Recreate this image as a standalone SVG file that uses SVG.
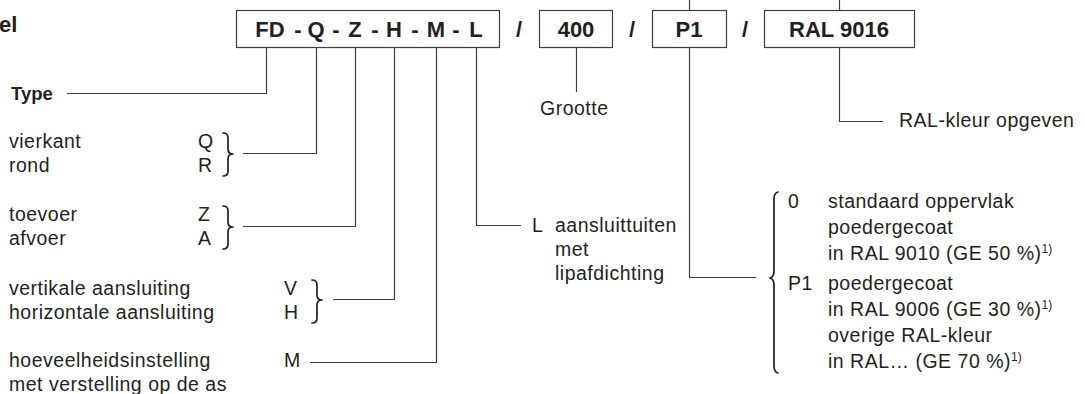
<svg xmlns="http://www.w3.org/2000/svg" width="1085" height="394" viewBox="0 0 1085 394">
<style>
text{font-family:"Liberation Sans",Arial,sans-serif;fill:#231f20}
.r{font-size:19.5px;letter-spacing:0.5px}
.b{font-size:22px;font-weight:bold}
.t{font-size:18.5px;font-weight:bold}
.sup{font-size:12px;letter-spacing:0}
.ln{fill:none;stroke:#404040;stroke-width:1.2}
.br{fill:none;stroke:#231f20;stroke-width:1.7;stroke-linecap:round;stroke-linejoin:round}
.box{fill:#fff;stroke:#404040;stroke-width:1.2}
</style>
<rect width="1085" height="394" fill="#fff"/>
<g id="title"><text class="b" x="-1" y="32">el</text></g>
<g id="connectors">
<path class="ln" d="M689.5 0V10M839.5 0V10"/>
<path class="ln" d="M266.5 47V93.5H67"/>
<path class="ln" d="M316.5 47V153.5H243"/>
<path class="ln" d="M355.5 47V226.5H243"/>
<path class="ln" d="M394.5 47V299.5H333"/>
<path class="ln" d="M436.5 47V362.5H310"/>
<path class="ln" d="M476.5 47V225.5H521"/>
<path class="ln" d="M576.5 47V92"/>
<path class="ln" d="M689.5 47V277.5H756"/>
<path class="ln" d="M839.5 47V121.5H883"/>
</g>
<g id="code-box">
<rect class="box" x="236.5" y="10.5" width="263" height="37"/>
<g text-anchor="middle">
<text class="b" x="270" y="37">FD</text>
<text class="b" x="298" y="37">-</text>
<text class="b" x="316" y="37">Q</text>
<text class="b" x="336" y="37">-</text>
<text class="b" x="355" y="37">Z</text>
<text class="b" x="375" y="37">-</text>
<text class="b" x="394" y="37">H</text>
<text class="b" x="415" y="37">-</text>
<text class="b" x="436" y="37">M</text>
<text class="b" x="456" y="37">-</text>
<text class="b" x="476" y="37">L</text>
</g>
</g>
<g id="slashes" text-anchor="middle">
<text class="b" x="519" y="37">/</text>
<text class="b" x="632" y="37">/</text>
<text class="b" x="745" y="37">/</text>
</g>
<g id="size-box">
<rect class="box" x="539.5" y="10.5" width="73" height="37"/>
<text class="b" x="576" y="37" text-anchor="middle">400</text>
</g>
<g id="finish-box">
<rect class="box" x="652.5" y="10.5" width="74" height="37"/>
<text class="b" x="689" y="37" text-anchor="middle">P1</text>
</g>
<g id="ral-box">
<rect class="box" x="764.5" y="10.5" width="150" height="37"/>
<text class="b" x="839" y="37" text-anchor="middle">RAL 9016</text>
</g>
<g id="type"><text class="t" x="11" y="100">Type</text></g>
<g id="shape">
<text class="r" x="9" y="148">vierkant</text>
<text class="r" x="9" y="172">rond</text>
<text class="r" x="198" y="148">Q</text>
<text class="r" x="198" y="172">R</text>
<path class="br" d="M223 133Q228 133 228 138V149Q228 154 233 154Q228 154 228 159V171Q228 176 223 176"/>
</g>
<g id="direction">
<text class="r" x="9" y="221">toevoer</text>
<text class="r" x="9" y="245">afvoer</text>
<text class="r" x="198" y="221">Z</text>
<text class="r" x="198" y="245">A</text>
<path class="br" d="M223 206Q228 206 228 211V222Q228 227 233 227Q228 227 228 232V244Q228 249 223 249"/>
</g>
<g id="connection">
<text class="r" x="9" y="295">vertikale aansluiting</text>
<text class="r" x="9" y="319">horizontale aansluiting</text>
<text class="r" x="284" y="295">V</text>
<text class="r" x="284" y="319">H</text>
<path class="br" d="M312 280Q317 280 317 285V295Q317 300 322 300Q317 300 317 305V318Q317 323 312 323"/>
</g>
<g id="flow">
<text class="r" x="9" y="367">hoeveelheidsinstelling</text>
<text class="r" x="9" y="391">met verstelling op de as</text>
<text class="r" x="284" y="367">M</text>
</g>
<g id="spigots">
<text class="r" x="532" y="232">L</text>
<text class="r" x="555" y="232">aansluittuiten</text>
<text class="r" x="555" y="256">met</text>
<text class="r" x="555" y="280">lipafdichting</text>
</g>
<g id="size-label"><text class="r" x="540" y="115">Grootte</text></g>
<g id="ral-label"><text class="r" x="899" y="127">RAL-kleur opgeven</text></g>
<g id="finish">
<path class="br" d="M778 192Q774 193 774 199V271Q774 277 770 278Q774 279 774 285V366Q774 372 778 373"/>
<text class="r" x="788" y="208">0</text>
<text class="r" x="828" y="208">standaard oppervlak</text>
<text class="r" x="828" y="234">poedergecoat</text>
<text class="r" x="828" y="260">in RAL 9010 (GE 50 %)<tspan class="sup" dy="-7">1)</tspan></text>
<text class="r" x="788" y="290">P1</text>
<text class="r" x="828" y="290">poedergecoat</text>
<text class="r" x="828" y="316">in RAL 9006 (GE 30 %)<tspan class="sup" dy="-7">1)</tspan></text>
<text class="r" x="828" y="342">overige RAL-kleur</text>
<text class="r" x="828" y="368">in RAL… (GE 70 %)<tspan class="sup" dy="-7">1)</tspan></text>
</g>
</svg>
